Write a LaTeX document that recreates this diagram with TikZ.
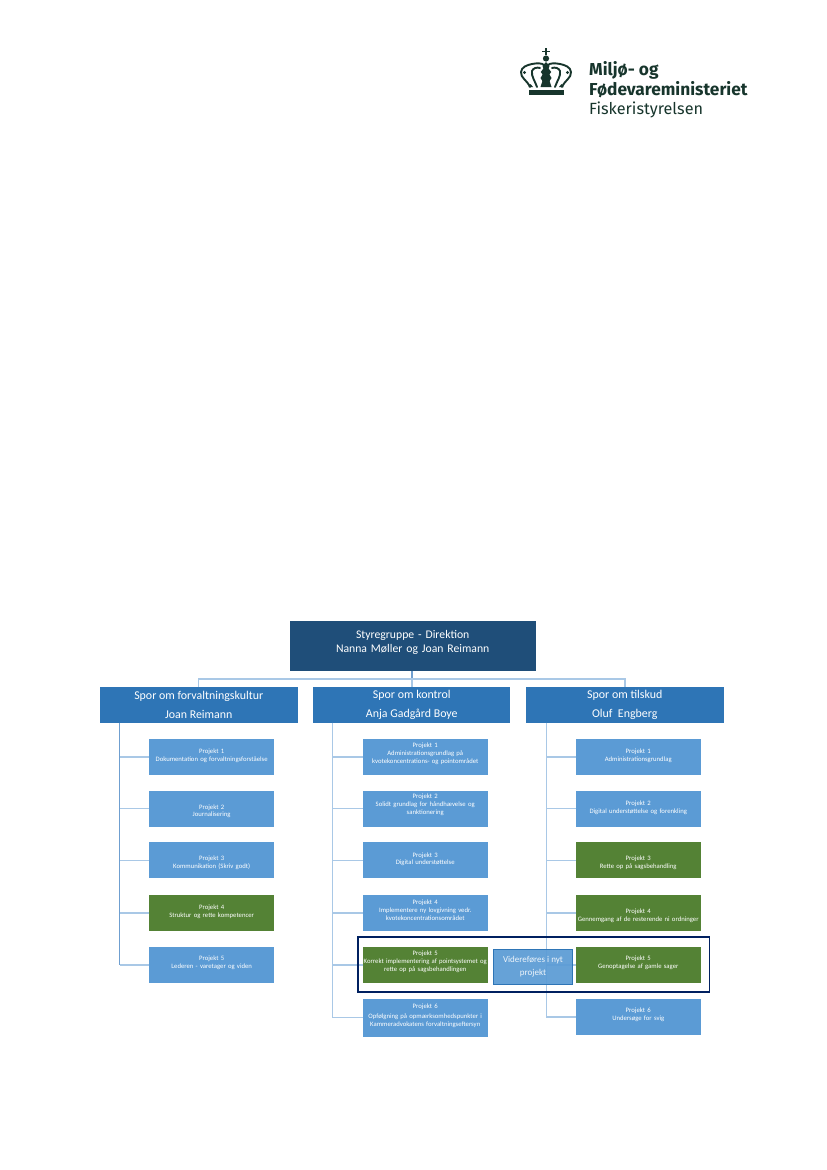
\documentclass[tikz,border=0pt]{standalone}
\usepackage{fontspec}
\setmainfont{Carlito}
\newfontfamily\logofont{Fira Sans}
\definecolor{topc}{HTML}{1F4E79}
\definecolor{lvlc}{HTML}{2E75B6}
\definecolor{prjc}{HTML}{5B9BD5}
\definecolor{grnc}{HTML}{548235}
\definecolor{linc}{HTML}{A9C8E6}
\definecolor{trkc}{HTML}{6F9FD0}
\definecolor{navc}{HTML}{002060}
\definecolor{logoc}{HTML}{17352C}
\newcommand\lft[1]{\par\vspace{#1pt}}
\tikzset{
 x=1pt,y=-1pt,
 boxbase/.style={anchor=north west,inner sep=0pt,outer sep=0pt,align=center,text=white},
 topbox/.style={boxbase,fill=topc,minimum width=246pt,minimum height=50pt,text width=240pt,font=\fontsize{11.7}{13.7}\selectfont},
 lvlbox/.style={boxbase,fill=lvlc,minimum width=197.5pt,minimum height=35.7pt,font=\fontsize{11.9}{18.6}\selectfont},
 prj/.style={boxbase,fill=prjc,minimum width=124.5pt,minimum height=36pt,text width=124pt,font=\fontsize{6.7}{7.8}\selectfont},
 prjg/.style={prj,fill=grnc},
 bus/.style={linc,line width=1.2pt},
 trunk/.style={trkc,line width=.9pt},
 branch/.style={linc,line width=1.2pt},
 scrollline/.style={line width=1.9pt,line cap=round},
}
\begin{document}
\begin{tikzpicture}
\useasboundingbox[fill=white] (0,0) rectangle (827,1170);
% logo
\begin{scope}[logoc,shift={(546,0)}]
 \fill (-17.5,90) rectangle (17.5,95);
 \fill (-0.7,48) rectangle (0.7,55);
 \fill (-3.6,51.2) rectangle (3.6,52.4);
 \fill (0,58.5) circle (3.1);
 \fill (0,62) -- (3.5,66) -- (2.6,68.5) -- (5.2,72) -- (3.4,74.5) -- (5.5,78) -- (3.6,81) -- (5.5,87) -- (-5.5,87) -- (-3.6,81) -- (-5.5,78) -- (-3.4,74.5) -- (-5.2,72) -- (-2.6,68.5) -- (-3.5,66) -- cycle;
 \foreach \sx in {1,-1}{
  \begin{scope}[xscale=\sx]
   \draw[scrollline] (16,87) .. controls (19,80) and (25.5,78) .. (25,72) .. controls (24.5,67) and (19,65) .. (14,64) .. controls (9,63) and (4,63) .. (2,65);
   \draw[scrollline] (9,87) .. controls (11,81) and (15,76) .. (14,71) .. controls (13,68) and (9,67) .. (6,68);
   \fill (21.5,72.5) circle (1.7);
   \fill (13,87) -- (17.5,87) -- (15.5,84) -- cycle;
  \end{scope}
 }
\end{scope}
\node[anchor=base west,inner sep=0pt,text=logoc,font=\logofont\bfseries\fontsize{17.3}{20}\selectfont] (lg1) at (589,75) {Miljø- og};
\node[anchor=base west,inner sep=0pt,text=logoc,font=\logofont\bfseries\fontsize{17.3}{20}\selectfont] (lg2) at (589,95) {Fødevareministeriet};
\node[anchor=base west,inner sep=0pt,text=logoc,font=\logofont\fontsize{16.2}{20}\selectfont] (lg3) at (589,114.5) {Fiskeristyrelsen};
% boxes
\node[topbox] (top) at (289.7,621) {Styregruppe - Direktion\\Nanna Møller og Joan Reimann\lft{7}};
\node[lvlbox] (lA) at (100,687) {Spor om forvaltningskultur\\Joan Reimann};
\node[lvlbox,minimum width=197pt] (lB) at (313.3,687) {Spor om kontrol\\Anja Gadgård Boye};
\node[lvlbox] (lC) at (526,687) {Spor om tilskud\\Oluf~ Engberg};
% projects left
\node[prj] (a1) at (149.4,739) {Projekt 1\\Dokumentation og forvaltningsforståelse\lft{3}};
\node[prj] (a2) at (149.4,790.5) {Projekt 2\\Journalisering\lft{-5.6}};
\node[prj] (a3) at (149.4,842.3) {Projekt 3\\Kommunikation (Skriv godt)\lft{-5.6}};
\node[prjg] (a4) at (149.4,895) {Projekt 4\\Struktur og rette kompetencer\lft{3}};
\node[prj] (a5) at (149.4,947) {Projekt 5\\Lederen - varetager og viden\lft{4}};
% projects mid
\node[prj] (b1) at (363,739) {Projekt 1\\Administrationsgrundlag på\\kvotekoncentrations- og pointområdet\lft{7}};
\node[prj] (b2) at (363,790.5) {Projekt 2\\Solidt grundlag for håndhævelse og\\sanktionering\lft{7}};
\node[prj] (b3) at (363,842.3) {Projekt 3\\Digital understøttelse\lft{2}};
\node[prj] (b4) at (363,895) {Projekt 4\\Implementere ny lovgivning vedr.\\kvotekoncentrationsområdet\lft{6}};
\node[prjg] (b5) at (363,947) {Projekt 5\\Korrekt implementering af pointsystemet og\\rette op på sagsbehandlingen\lft{7}};
\node[prj,minimum height=38.3pt] (b6) at (363,999) {Projekt 6\\[2pt]Opfølgning på opmærksomhedspunkter i\\Kammeradvokatens forvaltningseftersyn\lft{5}};
% projects right
\node[prj] (c1) at (576,739) {Projekt 1\\Administrationsgrundlag\lft{3}};
\node[prj] (c2) at (576,790.5) {Projekt 2\\Digital understøttelse og forenkling\lft{2}};
\node[prjg] (c3) at (576,842.3) {Projekt 3\\Rette op på sagsbehandling\lft{-5.6}};
\node[prjg] (c4) at (576,895) {Projekt 4\\Gennemgang af de resterende ni ordninger\lft{-5}};
\node[prjg] (c5) at (576,947) {Projekt 5\\Genoptagelse af gamle sager\lft{4}};
\node[prj] (c6) at (576,999) {Projekt 6\\Undersøge for svig\lft{4}};
% coordinates for connectors
\coordinate (busm) at (412,679);
\coordinate (busl) at (198.5,679);
\coordinate (busr) at (625,679);
\coordinate (ta) at (119.5,722.7);
\coordinate (tb) at (332.5,722.7);
\coordinate (tc) at (546.3,722.7);
% connectors
\draw[bus,trkc] (top.south -| busm) -- (busm);
\draw[bus] (lA.north -| busl) -- (busl) -- (busr) -- (lC.north -| busr);
\draw[bus] (busm) -- (lB.north -| busm);
\foreach \n in {a1,a2,a3,a4,a5}{\draw[branch] (\n.west) -- (\n.west -| ta);}
\foreach \n in {b1,b2,b3,b4,b5}{\draw[branch] (\n.west) -- (\n.west -| tb);}
\foreach \n in {c1,c2,c3,c4,c5,c6}{\draw[branch] (\n.west) -- (\n.west -| tc);}
\draw[branch] ([yshift=0.5pt]b6.west) -- ([yshift=0.5pt]b6.west -| tb);
\draw[trunk] (ta) -- (ta |- a5.west);
\draw[linc,line width=.9pt] (tb) -- (tb |- b6.west);
\draw[linc,line width=.9pt] (tc) -- (tc |- c6.west);
% overlay
\node[anchor=north west,draw=navc,line width=1.8pt,minimum width=351.5pt,minimum height=54.7pt,inner sep=0pt,outer sep=0pt] (frame) at (358,937) {};
\node[boxbase,fill=prjc,fill opacity=.93,text opacity=1,text=white!90!prjc,draw=lvlc,line width=.8pt,minimum width=79.4pt,minimum height=34.7pt,font=\fontsize{9}{12.4}\selectfont] (nyt) at (493.3,949.3) {Videreføres i nyt\\projekt};
\end{tikzpicture}
\end{document}
